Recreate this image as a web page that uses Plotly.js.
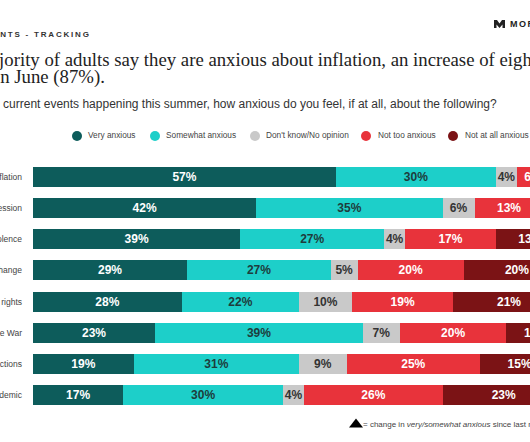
<!DOCTYPE html>
<html><head><meta charset="utf-8">
<script src="https://cdn.plot.ly/plotly-3.0.1.min.js"></script>
<style>html,body{margin:0;padding:0;overflow:hidden;background:#fff;width:530px;height:442px}#chart{width:595px;height:442px}</style>
</head><body><div id="chart"></div>
<script>
// ---- data ----
const categories = ["Inflation", "A recession", "Gun violence", "Climate change", "Abortion rights", "The Russia-Ukraine War", "The 2022 midterm elections", "The COVID-19 pandemic"];
const seriesNames = ["Very anxious", "Somewhat anxious", "Don't know/No opinion", "Not too anxious", "Not at all anxious"];
const veryAnxious     = [57, 42, 39, 29, 28, 23, 19, 17];
const somewhatAnxious = [30, 35, 27, 27, 22, 39, 31, 30];
const dontKnow        = [4, 6, 4, 5, 10, 7, 9, 4];
const notTooAnxious   = [6, 13, 17, 20, 19, 20, 25, 26];
const notAtAllAnxious = [3, 4, 13, 20, 21, 11, 15, 23];
const headline = "CURRENT EVENTS - TRACKING";
const titleLine1 = "A majority of adults say they are anxious about inflation, an increase of eight points from those";
const titleLine2 = "in June (87%).";
const subtitle = "Thinking about the current events happening this summer, how anxious do you feel, if at all, about the following?";
const footnote = "= change in <i>very/somewhat anxious</i> since last month";

// ---- styling ----
const seriesValues = [veryAnxious, somewhatAnxious, dontKnow, notTooAnxious, notAtAllAnxious];
const colors = ["#0d5c5b", "#1dcfc9", "#c9c9c9", "#e8333b", "#7b1315"];
const textColors = ["#ffffff", "#1e3c3c", "#333333", "#ffffff", "#ffffff"];

const W = 595, H = 442, ML = 33, MT = 161, PW = 532, PH = 250;
const MR = W - ML - PW, MB = H - MT - PH;
const px = x => (x - ML) / PW;
const py = y => 1 - (y - MT) / PH;

function textW(s, font) {
  const c = document.createElement('canvas').getContext('2d');
  c.font = font; return c.measureText(s).width;
}

const traces = seriesValues.map((vals, i) => ({
  type: 'bar', orientation: 'h', name: seriesNames[i],
  x: vals, y: categories,
  marker: {color: colors[i], line: {width: 0}},
  text: vals.map(v => v + '%'),
  textposition: 'inside', insidetextanchor: 'middle', constraintext: 'none', textangle: 0,
  textfont: {family: '"Liberation Sans", Arial, sans-serif', size: 12, weight: 700, color: textColors[i]},
  hoverinfo: 'skip', showlegend: false
}));

const sans = '"Liberation Sans", Arial, sans-serif';
const serif = '"Liberation Serif", "Times New Roman", serif';
const annotations = [];
const shapes = [];

annotations.push({xref: 'paper', yref: 'paper', x: px(91), y: py(34.5), xanchor: 'right', yanchor: 'middle',
  text: '<span style="letter-spacing:1.8px">' + headline + '</span>', showarrow: false, borderpad: 0, borderwidth: 0,
  font: {family: sans, size: 8, weight: 700, color: '#333'}});

const tSize = 18.75;
const p1 = textW("A ma", tSize + 'px "Liberation Serif"');
annotations.push({xref: 'paper', yref: 'paper', x: px(0.5 - p1), y: py(59), xanchor: 'left', yanchor: 'middle',
  text: titleLine1, showarrow: false, borderpad: 0, borderwidth: 0, align: 'left',
  font: {family: serif, size: tSize, color: '#222'}});
const p2 = textW("i", tSize + 'px "Liberation Serif"');
annotations.push({xref: 'paper', yref: 'paper', x: px(0 - p2), y: py(77.5), xanchor: 'left', yanchor: 'middle',
  text: titleLine2, showarrow: false, borderpad: 0, borderwidth: 0, align: 'left',
  font: {family: serif, size: tSize, color: '#222'}});

const p3 = textW("Thinking about the ", '12px "Liberation Sans"');
annotations.push({xref: 'paper', yref: 'paper', x: px(3 - p3), y: py(104), xanchor: 'left', yanchor: 'middle',
  text: subtitle, showarrow: false, borderpad: 0, borderwidth: 0, align: 'left',
  font: {family: sans, size: 12, color: '#333'}});

// manual legend
const legCircleX = [77, 155, 255, 366, 453];
const legTextX = [88, 166, 266, 378, 465];
seriesNames.forEach((n, i) => {
  shapes.push({type: 'circle', xref: 'paper', yref: 'paper', xsizemode: 'pixel', ysizemode: 'pixel',
    xanchor: px(legCircleX[i]), yanchor: py(136), x0: -5, x1: 5, y0: -5, y1: 5,
    fillcolor: colors[i], line: {width: 0}});
  annotations.push({xref: 'paper', yref: 'paper', x: px(legTextX[i]), y: py(135.5), xanchor: 'left', yanchor: 'middle',
    text: n, showarrow: false, borderpad: 0, borderwidth: 0, font: {family: sans, size: 8.3, color: '#444'}});
});

// footnote triangle + text
const tri = [[349, 427.5], [356, 418.5], [363, 427.5]];
shapes.push({type: 'path', xref: 'paper', yref: 'paper', fillcolor: '#000', line: {width: 0},
  path: 'M' + tri.map(p => px(p[0]) + ',' + py(p[1])).join(' L') + ' Z'});
annotations.push({xref: 'paper', yref: 'paper', x: px(362.5), y: py(424), xanchor: 'left', yanchor: 'middle',
  text: footnote, showarrow: false, borderpad: 0, borderwidth: 0, font: {family: sans, size: 8, color: '#444'}});

// logo
const logo = [[494,20],[497,20],[499.5,23.5],[502,20],[505,20],[505,28],[502.5,28],[502.5,24.5],[499.5,28],[496.5,24.5],[496.5,28],[494,28]];
shapes.push({type: 'path', xref: 'paper', yref: 'paper', fillcolor: '#222', line: {width: 0},
  path: 'M' + logo.map(p => px(p[0]) + ',' + py(p[1])).join(' L') + ' Z'});
annotations.push({xref: 'paper', yref: 'paper', x: px(509.5), y: py(24), xanchor: 'left', yanchor: 'middle',
  text: '<span style="letter-spacing:1.5px">MORNING CONSULT</span>', showarrow: false, borderpad: 0, borderwidth: 0,
  font: {family: sans, size: 9, weight: 700, color: '#222'}});

const layout = {
  width: W, height: H, margin: {l: ML, r: MR, t: MT, b: MB, pad: 0},
  paper_bgcolor: '#fff', plot_bgcolor: '#fff',
  barmode: 'stack', bargap: 0.36, showlegend: false,
  xaxis: {range: [0, 100], showgrid: false, zeroline: false, showticklabels: false, showline: false, fixedrange: true},
  yaxis: {type: 'category', categoryorder: 'array', categoryarray: categories, autorange: 'reversed',
    showgrid: false, zeroline: false, showline: false, ticks: '', ticklabelstandoff: 10,
    tickfont: {family: sans, size: 8.5, color: '#444'}, fixedrange: true},
  annotations: annotations, shapes: shapes,
  font: {family: sans}
};
Plotly.newPlot('chart', traces, layout, {displayModeBar: false, staticPlot: true});
</script></body></html>
